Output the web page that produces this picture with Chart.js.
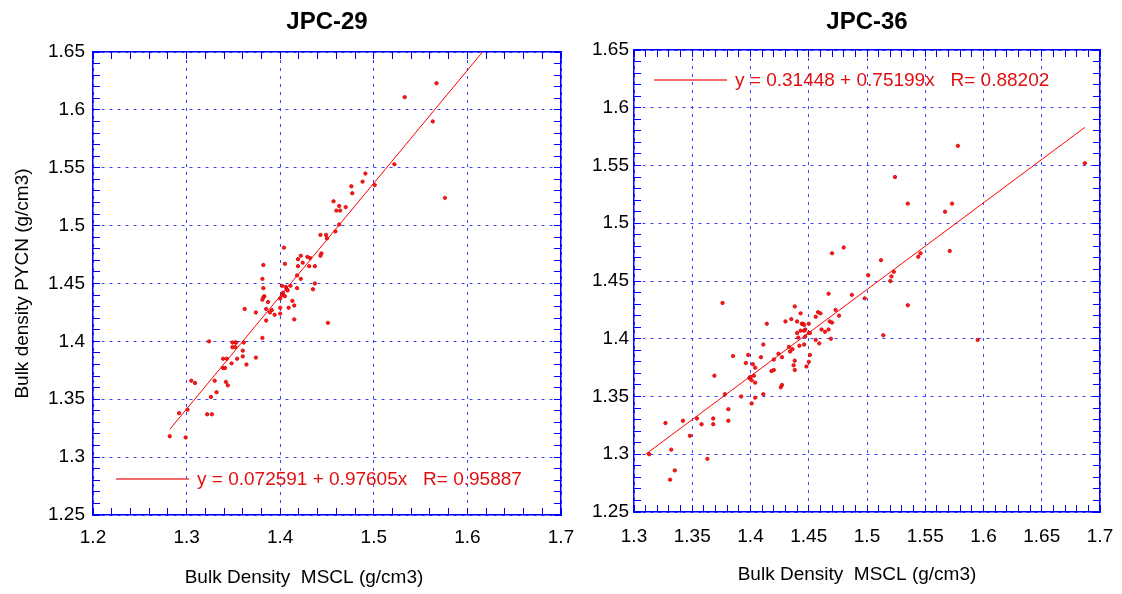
<!DOCTYPE html>
<html>
<head>
<meta charset="utf-8">
<script src="https://cdn.jsdelivr.net/npm/chart.js@4.4.1/dist/chart.umd.min.js"></script>
<style>
  html, body { margin: 0; padding: 0; background: #fff; overflow: hidden; }
  #wrap { position: relative; width: 1122px; height: 594px; overflow: hidden; }
  .panel { position: absolute; top: 0; height: 594px; }
  #panel29 { left: 0; width: 595px; }
  #panel36 { left: 575px; width: 561px; }
</style>
</head>
<body>
<div id="wrap">
  <div class="panel" id="panel29"><canvas id="chart29"></canvas></div>
  <div class="panel" id="panel36"><canvas id="chart36"></canvas></div>
</div>
<script>
// JPC-29 : bulk density MSCL (x) vs PYCN (y)
var mscl29 = [1.324, 1.349, 1.352, 1.353, 1.361, 1.381, 1.349, 1.352, 1.360, 1.339,
  1.343, 1.354, 1.360, 1.374, 1.348, 1.339, 1.341, 1.364, 1.305, 1.309,
  1.330, 1.342, 1.344, 1.332, 1.326, 1.292, 1.301, 1.322, 1.327, 1.282,
  1.299, 1.491, 1.476, 1.488, 1.477, 1.501, 1.457, 1.463, 1.460, 1.464,
  1.470, 1.463, 1.459, 1.443, 1.449, 1.450, 1.404, 1.382, 1.405, 1.422,
  1.419, 1.429, 1.432, 1.444, 1.443, 1.424, 1.419, 1.431, 1.437, 1.381,
  1.418, 1.422, 1.437, 1.435, 1.382, 1.383, 1.382, 1.381, 1.402, 1.406,
  1.407, 1.411, 1.418, 1.403, 1.402, 1.405, 1.408, 1.400, 1.387, 1.413,
  1.415, 1.409, 1.400, 1.385, 1.391, 1.389, 1.394, 1.374, 1.385, 1.400,
  1.415, 1.451, 1.362, 1.567, 1.533, 1.563, 1.522, 1.576];
var pycn29 = [1.400, 1.399, 1.399, 1.399, 1.399, 1.403, 1.395, 1.395, 1.392, 1.385,
  1.385, 1.385, 1.387, 1.386, 1.381, 1.377, 1.377, 1.380, 1.366, 1.364,
  1.366, 1.365, 1.362, 1.356, 1.352, 1.338, 1.341, 1.337, 1.337, 1.318,
  1.317, 1.545, 1.534, 1.538, 1.528, 1.535, 1.521, 1.517, 1.513, 1.513,
  1.516, 1.501, 1.495, 1.492, 1.492, 1.489, 1.481, 1.466, 1.467, 1.474,
  1.471, 1.473, 1.472, 1.476, 1.474, 1.468, 1.465, 1.465, 1.465, 1.454,
  1.457, 1.454, 1.450, 1.445, 1.446, 1.439, 1.438, 1.436, 1.448, 1.447,
  1.445, 1.448, 1.446, 1.442, 1.440, 1.439, 1.444, 1.437, 1.434, 1.435,
  1.431, 1.429, 1.429, 1.428, 1.427, 1.425, 1.423, 1.425, 1.418, 1.424,
  1.419, 1.416, 1.428, 1.623, 1.611, 1.590, 1.553, 1.524];
var fitX29 = [1.282, 1.6161];
var fitY29 = [1.324, 1.65];
var fitLabel29 = "y = 0.072591 + 0.97605x   R= 0.95887";

// JPC-36
var mscl36 = [1.313, 1.327, 1.332, 1.335, 1.331, 1.342, 1.348, 1.354, 1.358, 1.363,
  1.368, 1.368, 1.369, 1.378, 1.381, 1.381, 1.385, 1.392, 1.396, 1.398,
  1.399, 1.400, 1.401, 1.401, 1.402, 1.403, 1.404, 1.404, 1.404, 1.409,
  1.411, 1.411, 1.418, 1.420, 1.420, 1.424, 1.427, 1.426, 1.427, 1.433,
  1.434, 1.436, 1.437, 1.438, 1.438, 1.440, 1.441, 1.442, 1.376, 1.467,
  1.438, 1.443, 1.414, 1.430, 1.435, 1.440, 1.444, 1.445, 1.446, 1.450,
  1.447, 1.446, 1.443, 1.450, 1.451, 1.447, 1.456, 1.458, 1.460, 1.473,
  1.476, 1.468, 1.470, 1.461, 1.464, 1.467, 1.456, 1.459, 1.469, 1.446,
  1.451, 1.450, 1.448, 1.470, 1.480, 1.512, 1.501, 1.520, 1.521, 1.523,
  1.544, 1.546, 1.571, 1.535, 1.514, 1.595, 1.498, 1.487, 1.578, 1.687,
  1.524, 1.535, 1.573, 1.567];
var pycn36 = [1.300, 1.327, 1.304, 1.286, 1.278, 1.329, 1.316, 1.331, 1.326, 1.296,
  1.331, 1.326, 1.368, 1.352, 1.339, 1.329, 1.385, 1.350, 1.379, 1.386,
  1.366, 1.367, 1.344, 1.364, 1.378, 1.368, 1.349, 1.375, 1.362, 1.384,
  1.352, 1.395, 1.372, 1.373, 1.382, 1.387, 1.384, 1.358, 1.360, 1.393,
  1.389, 1.391, 1.377, 1.381, 1.373, 1.405, 1.401, 1.394, 1.431, 1.439,
  1.428, 1.422, 1.413, 1.415, 1.417, 1.415, 1.413, 1.413, 1.412, 1.413,
  1.408, 1.407, 1.407, 1.405, 1.405, 1.402, 1.419, 1.423, 1.422, 1.425,
  1.420, 1.415, 1.414, 1.408, 1.406, 1.408, 1.399, 1.396, 1.400, 1.395,
  1.386, 1.380, 1.376, 1.474, 1.479, 1.468, 1.455, 1.450, 1.454, 1.458,
  1.471, 1.474, 1.476, 1.429, 1.403, 1.399, 1.435, 1.438, 1.567, 1.552,
  1.540, 1.517, 1.517, 1.510];
var fitX36 = [1.31, 1.687];
var fitY36 = [1.300, 1.583];
var fitLabel36 = "y = 0.31448 + 0.75199x   R= 0.88202";

var xTitle = "Bulk Density  MSCL (g/cm3)";
var yTitle = "Bulk density PYCN (g/cm3)";

var FONT = "'Liberation Sans', Arial, sans-serif";
var BLUE = "#0000ff";
var GRID = "rgba(30,30,255,0.85)";
var RED = "#ff0000";

Chart.defaults.font.family = FONT;
Chart.defaults.color = "#000";

function isMajor(v, major) {
  var r = v / major;
  return Math.abs(r - Math.round(r)) < 1e-6;
}

function toPoints(xs, ys) {
  return xs.map(function (x, i) { return { x: x, y: ys[i] }; });
}

// main axis: labels, dashed grid on majors, inward minor ticks
function mainAxis(pos, min, max, step, major, pad, size, title) {
  var s = {
    type: "linear",
    position: pos,
    min: min,
    max: max,
    ticks: {
      stepSize: step,
      autoSkip: false,
      maxRotation: 0,
      padding: pad,
      font: { size: 19 },
      color: "#000",
      callback: function (v) { return isMajor(v, major) ? String(Number(v.toFixed(2))) : ""; }
    },
    grid: {
      color: function (c) { return c.tick && isMajor(c.tick.value, major) ? GRID : "rgba(0,0,0,0)"; },
      lineWidth: 1,
      tickLength: -7,
      tickColor: BLUE,
      tickWidth: 1
    },
    border: { color: BLUE, width: 1.5, dash: [3, 5] },
    afterFit: function (scale) {
      if (scale.isHorizontal()) scale.height = size; else scale.width = size;
    }
  };
  if (title) s.title = title;
  return s;
}

// mirror axis on the opposite side: only the inward ticks and the frame
// (the right one is wide enough to hold the overhang of the last x label)
function mirrorAxis(pos, min, max, step, size) {
  return {
    type: "linear",
    position: pos,
    min: min,
    max: max,
    ticks: { display: false, stepSize: step, autoSkip: false },
    grid: { drawOnChartArea: false, tickLength: -7, tickColor: BLUE, tickWidth: 1 },
    border: { color: BLUE, width: 1.5 },
    afterFit: function (scale) {
      if (scale.isHorizontal()) scale.height = size; else scale.width = size;
    }
  };
}

// panel title, x axis title (sits a bit left of centre) and the fit legend
var panelText = {
  id: "panelText",
  afterDatasetsDraw: function (chart, args, opts) {
    var ctx = chart.ctx, a = chart.chartArea;
    var mid = (a.left + a.right) / 2;
    var fit = chart.data.datasets[1];
    ctx.save();
    ctx.textAlign = "center";
    ctx.textBaseline = "middle";
    ctx.font = "bold 24px " + FONT;
    ctx.fillStyle = "#000";
    ctx.fillText(opts.title, mid, 22);

    ctx.font = "19px " + FONT;
    ctx.fillText(xTitle, mid + opts.xDx, opts.xY);

    var lx = a.left + opts.dx;
    var ly = opts.top ? a.top + opts.dy : a.bottom - opts.dy;
    ctx.strokeStyle = "rgba(235,40,40,0.9)";
    ctx.lineWidth = 1.5;
    ctx.beginPath();
    ctx.moveTo(lx, ly);
    ctx.lineTo(lx + 73, ly);
    ctx.stroke();
    ctx.fillStyle = "#e01010";
    ctx.textAlign = "left";
    ctx.fillText(fit.label, lx + 81, ly + 1);
    ctx.restore();
  }
};

function makeChart(id, xs, ys, fx, fy, label, cfg) {
  return new Chart(document.getElementById(id), {
    type: "scatter",
    data: {
      datasets: [
        {
          label: "data",
          data: toPoints(xs, ys),
          pointRadius: 1.7,
          pointBorderWidth: 0.8,
          borderColor: "#d00000",
          backgroundColor: "#ff1a1a"
        },
        {
          label: label,
          data: toPoints(fx, fy),
          showLine: true,
          pointRadius: 0,
          borderColor: RED,
          borderWidth: 1
        }
      ]
    },
    options: {
      responsive: true,
      maintainAspectRatio: false,
      animation: false,
      layout: { padding: cfg.padding },
      plugins: {
        legend: { display: false },
        tooltip: { enabled: false },
        panelText: cfg.text
      },
      scales: cfg.scales
    },
    plugins: [panelText]
  });
}

makeChart("chart29", mscl29, pycn29, fitX29, fitY29, fitLabel29, {
  padding: { top: 52, right: 0, bottom: 0, left: 0 },
  text: { title: "JPC-29", dx: 23, dy: 36, top: false, xDx: -23, xY: 578 },
  scales: {
    x: mainAxis("bottom", 1.2, 1.7, 0.02, 0.1, 18, 79, null),
    y: mainAxis("left", 1.25, 1.65, 0.01, 0.05, 15, 93, {
      display: true, text: yTitle, font: { size: 19 }, color: "#000",
      padding: { top: 11, bottom: 0 }
    }),
    xTop: mirrorAxis("top", 1.2, 1.7, 0.02, 0),
    yRight: mirrorAxis("right", 1.25, 1.65, 0.01, 34)
  }
});

makeChart("chart36", mscl36, pycn36, fitX36, fitY36, fitLabel36, {
  padding: { top: 50, right: 0, bottom: 0, left: 0 },
  text: { title: "JPC-36", dx: 20, dy: 30, top: true, xDx: -10, xY: 575 },
  scales: {
    x: mainAxis("bottom", 1.3, 1.7, 0.01, 0.05, 20, 82, null),
    y: mainAxis("left", 1.25, 1.65, 0.01, 0.05, 12, 59, null),
    xTop: mirrorAxis("top", 1.3, 1.7, 0.01, 0),
    yRight: mirrorAxis("right", 1.25, 1.65, 0.01, 36)
  }
});
</script>
</body>
</html>
